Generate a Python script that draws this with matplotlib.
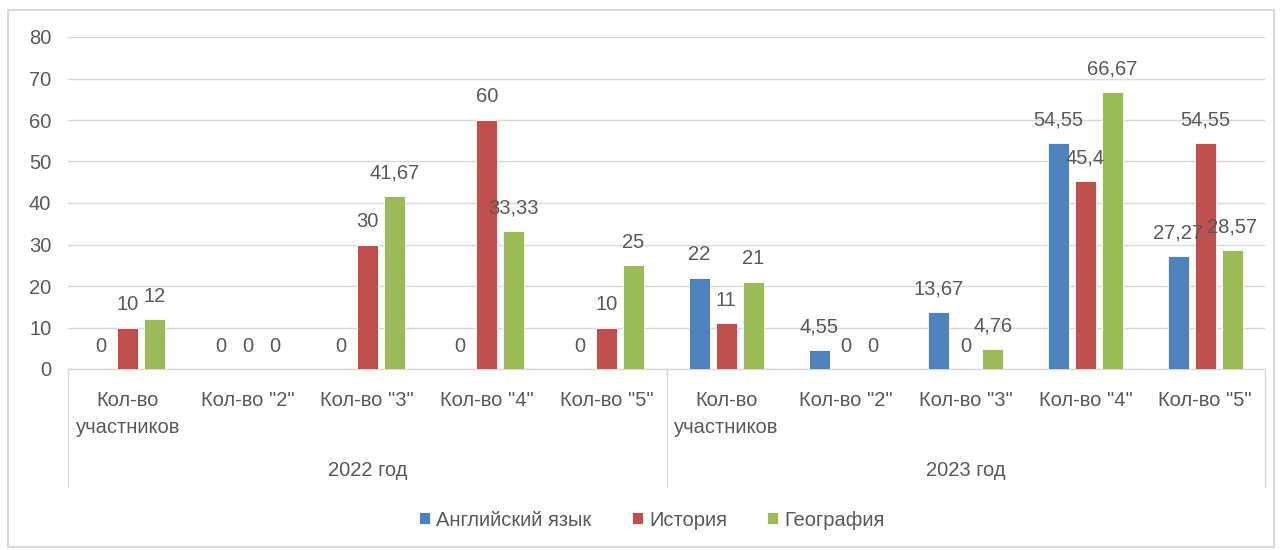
import numpy as np
import matplotlib
matplotlib.use('Agg')
import matplotlib.pyplot as plt
from matplotlib.patches import Rectangle
from matplotlib.lines import Line2D

plt.rcParams['font.family'] = ['Liberation Sans', 'DejaVu Sans']

# Данные
categories = ['Кол-во\nучастников', 'Кол-во "2"', 'Кол-во "3"', 'Кол-во "4"', 'Кол-во "5"',
              'Кол-во\nучастников', 'Кол-во "2"', 'Кол-во "3"', 'Кол-во "4"', 'Кол-во "5"']
groups = ['2022 год', '2023 год']
series_names = ['Английский язык', 'История', 'География']
english = [0, 0, 0, 0, 0, 22, 4.55, 13.67, 54.55, 27.27]
history = [10, 0, 30, 60, 10, 11, 0, 0, 45.4, 54.55]
geography = [12, 0, 41.67, 33.33, 25, 21, 0, 4.76, 66.67, 28.57]

colors = ['#4F81BD', '#C0504D', '#9BBB59']
text_col = '#595959'
grid_col = '#D9D9D9'
fs = 14.5

fig = plt.figure(figsize=(12.82, 5.5), dpi=100)
ax = fig.add_axes([68 / 1282, 1 - 369 / 550, (1265 - 68) / 1282, (369 - 37) / 550])

x = np.arange(len(categories))
offset = 0.225
width = 0.175
for i, (vals, name) in enumerate(zip([english, history, geography], series_names)):
    pos = x + (i - 1) * offset
    ax.bar(pos, vals, width, color=colors[i], edgecolor='white', linewidth=0.6, label=name, zorder=3)
    for px_, v in zip(pos, vals):
        lab = ('%g' % v).replace('.', ',')
        ax.annotate(lab, (px_, v), xytext=(0, 23), textcoords='offset pixels',
                    ha='center', va='center', fontsize=fs, color=text_col, zorder=4)

ax.set_xlim(-0.5, len(categories) - 0.5)
ax.set_ylim(0, 80)
ax.set_yticks(np.arange(0, 81, 10))
ax.tick_params(axis='y', length=0, pad=12, labelsize=fs, labelcolor=text_col)
ax.set_xticks([])
ax.yaxis.grid(True, color=grid_col, linewidth=1, zorder=0)
for s in ['top', 'right', 'left']:
    ax.spines[s].set_visible(False)
ax.spines['bottom'].set_color(grid_col)
ax.spines['bottom'].set_linewidth(1)

# многоуровневая ось категорий
trans = ax.get_xaxis_transform()
y_cat = -(391 - 369) / (369 - 37)
for xi, c in zip(x, categories):
    ax.text(xi, y_cat, c, transform=trans, ha='center', va='top', fontsize=fs,
            color=text_col, linespacing=1.55)
y_grp = -(471 - 369) / (369 - 37)
for gi, g in enumerate(groups):
    ax.text(gi * 5 + 2, y_grp, g, transform=trans, ha='center', va='center',
            fontsize=fs, color=text_col)
y_end = -(487 - 369) / (369 - 37)
for xs in [-0.5, 4.5, 9.5]:
    ax.add_line(Line2D([xs, xs], [0, y_end], transform=trans, color=grid_col,
                       linewidth=1, clip_on=False))

# легенда
leg = ax.legend(loc='center', bbox_to_anchor=(652 / 1282, 1 - 520 / 550),
                bbox_transform=fig.transFigure, ncol=3, frameon=False,
                fontsize=fs, handlelength=0.55, handleheight=0.55,
                handletextpad=0.3, columnspacing=2.0)
for t in leg.get_texts():
    t.set_color(text_col)

# рамка диаграммы
fig.patches.append(Rectangle((8 / 1282, 3 / 550), 1266 / 1282, 537 / 550,
                             transform=fig.transFigure, fill=False,
                             edgecolor=grid_col, linewidth=1.5))

fig.savefig('out.png', dpi=100)
